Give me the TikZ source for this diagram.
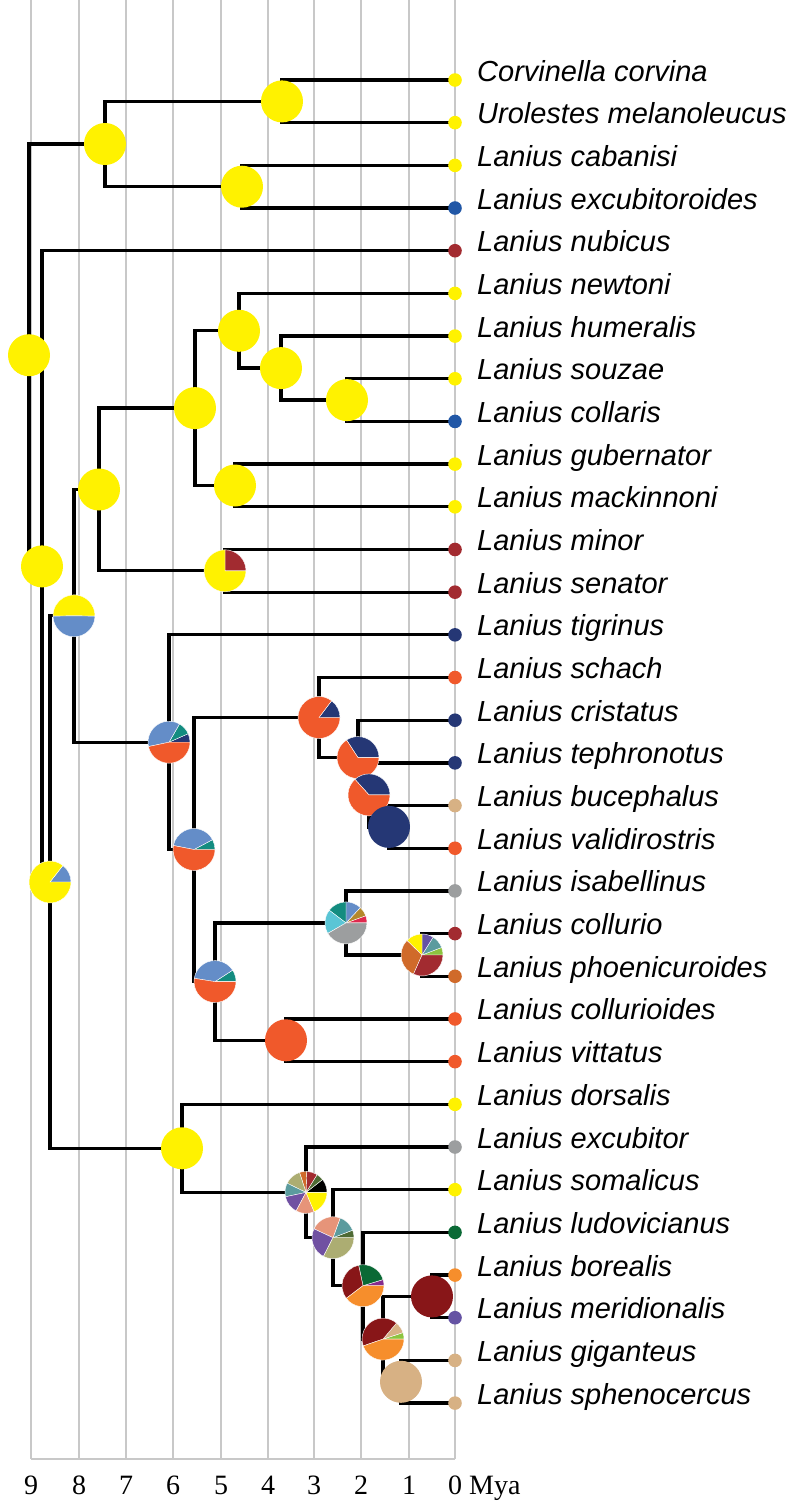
\documentclass[tikz,border=0pt]{standalone}
\usepackage{fontspec}
\setmainfont{Liberation Serif}
\setsansfont{Liberation Sans}
\usepackage{xcolor}
\usepackage{tikz}
\definecolor{stateyellow}{HTML}{FFF200}
\definecolor{stateblue}{HTML}{2157A6}
\definecolor{statebrown}{HTML}{A22B30}
\definecolor{statenavy}{HTML}{253775}
\definecolor{stateorange}{HTML}{F0592B}
\definecolor{statesky}{HTML}{648DC8}
\definecolor{stateteal}{HTML}{138C80}
\definecolor{statetan}{HTML}{D7B184}
\definecolor{stategray}{HTML}{9C9E9F}
\definecolor{statecyan}{HTML}{5AC5D5}
\definecolor{stategold}{HTML}{B4882A}
\definecolor{statecrimson}{HTML}{E0294E}
\definecolor{stateviolet}{HTML}{6553A3}
\definecolor{statecadet}{HTML}{5B9B9E}
\definecolor{statelime}{HTML}{8CC43F}
\definecolor{statechoco}{HTML}{D06A2A}
\definecolor{statedarkred}{HTML}{881618}
\definecolor{stategreen}{HTML}{0A6935}
\definecolor{stateamber}{HTML}{F68E2C}
\definecolor{statesage}{HTML}{ACAD72}
\definecolor{statesalmon}{HTML}{E69479}
\definecolor{stateolive}{HTML}{4E6A34}
\definecolor{statepurple}{HTML}{7050A2}
\definecolor{statemagenta}{HTML}{862C8E}
\definecolor{gridgray}{HTML}{C8C8C8}

\tikzset{
    gridline/.style={gridgray,line width=2.9pt},
    branch/.style={black,line width=3.3pt},
    tiplabel/.style={anchor=base west,inner sep=0pt,font=\sffamily\itshape\fontsize{29}{34}\selectfont},
    axislabel/.style={anchor=base,inner sep=0pt,font=\fontsize{28}{33}\selectfont},
}

% pie of ancestral states: start/end/colour
\newcommand{\statepie}[2]{%
    \foreach \sa/\ea/\col in {#2}
        \fill[\col,draw=white,line width=0.4pt] (#1) -- ++(\sa:21pt) arc[start angle=\sa,end angle=\ea,radius=21pt] -- cycle;
}
% one state only
\newcommand{\solidpie}[2]{\fill[#2] (#1) circle (21pt);}

\pgfdeclarelayer{back}
\pgfsetlayers{back,main}

\begin{document}
\begin{tikzpicture}[x=1pt,y=-1pt]
\useasboundingbox (0,0) rectangle (791,1505);

% Time axis
\begin{pgfonlayer}{back}
\foreach \xg in {31,79,126,173,221,268,314,361,409,455}
{
    \draw[gridline] (\xg,0) -- (\xg,1459);
}
\draw[gridline] (31,1459) -- (455,1459);
\end{pgfonlayer}
\foreach \xg/\lab in {31/9,79/8,126/7,173/6,221/5,268/4,314/3,361/2,409/1,455/0}
{
    \node[axislabel] (age\lab) at (\xg,1494) {\lab};
}
\node[axislabel,anchor=base west] (mya) at (469,1494) {Mya};

% Internal nodes
\coordinate (root) at (29,355.2);
\coordinate (nC) at (105,144);
\coordinate (nA) at (282,101.4);
\coordinate (nB) at (242,186.7);
\coordinate (nD) at (42,566.4);
\coordinate (nE) at (50,882);
\coordinate (nF) at (74,615.8);
\coordinate (nH) at (99,489.5);
\coordinate (nJ) at (195,408.1);
\coordinate (nL) at (239,330.8);
\coordinate (nN) at (281,368.1);
\coordinate (nO) at (347,400.1);
\coordinate (nM) at (235,485.5);
\coordinate (nK) at (225,570.8);
\coordinate (nI) at (169,742.2);
\coordinate (nP) at (194,849.5);
\coordinate (nQ) at (319,717.5);
\coordinate (nS) at (358,757.6);
\coordinate (nT) at (369,794.9);
\coordinate (nU) at (389,826.9);
\coordinate (nR) at (215,981.6);
\coordinate (nV) at (346,922.9);
\coordinate (nX) at (422,955);
\coordinate (nW) at (286,1040.3);
\coordinate (nG) at (182,1148.3);
\coordinate (nY) at (306,1192.4);
\coordinate (nZ) at (333,1237.7);
\coordinate (nAA) at (363,1285.7);
\coordinate (nBB) at (383,1339.1);
\coordinate (nCC) at (432,1296.4);
\coordinate (nDD) at (401,1381.8);

% Pies
\foreach \n in {root,nC,nA,nB,nD,nH,nJ,nL,nN,nO,nM,nG}
{
    \solidpie{\n}{stateyellow}
}
\statepie{nE}{0/52/statesky,52/360/stateyellow}
\statepie{nF}{-1/181/stateyellow,181/359/statesky}
\statepie{nK}{0/90/statebrown,90/360/stateyellow}
\statepie{nI}{0/24/statenavy,24/60/stateteal,60/192/statesky,192/360/stateorange}
\statepie{nP}{0/28/stateteal,28/169/statesky,169/360/stateorange}
\statepie{nR}{0/33/stateteal,33/171/statesky,171/360/stateorange}
\statepie{nQ}{0/53/statenavy,53/360/stateorange}
\statepie{nS}{0/123/statenavy,123/360/stateorange}
\statepie{nT}{0/132/statenavy,132/360/stateorange}
\solidpie{nU}{statenavy}
\statepie{nV}{0/20/statecrimson,20/47/stategold,47/90/statesky,90/143/stateteal,143/210/statecyan,210/360/stategray}
\statepie{nX}{0/21/statelime,21/58/statecadet,58/90/stateviolet,90/136/stateyellow,136/246/statechoco,246/360/statebrown}
\solidpie{nW}{stateorange}
\statepie{nY}{0/38/black,38/58/stateolive,58/88/statebrown,88/108/statechoco,108/154/statesage,154/192/statecadet,192/242/statepurple,242/293/statesalmon,293/360/stateyellow}
\statepie{nZ}{0/21/stateolive,21/70/statecadet,70/155/statesalmon,155/243/statepurple,243/360/statesage}
\statepie{nAA}{0/17/statemagenta,17/102/stategreen,102/217/statedarkred,217/360/stateamber}
\statepie{nBB}{0/18/statelime,18/50/statetan,50/199/statedarkred,199/360/stateamber}
\solidpie{nCC}{statedarkred}
\solidpie{nDD}{statetan}

% Tips
\foreach \i/\sp/\col in {1/Corvinella corvina/stateyellow,2/Urolestes melanoleucus/stateyellow,
    3/Lanius cabanisi/stateyellow,4/Lanius excubitoroides/stateblue,5/Lanius nubicus/statebrown,
    6/Lanius newtoni/stateyellow,7/Lanius humeralis/stateyellow,8/Lanius souzae/stateyellow,
    9/Lanius collaris/stateblue,10/Lanius gubernator/stateyellow,11/Lanius mackinnoni/stateyellow,
    12/Lanius minor/statebrown,13/Lanius senator/statebrown,14/Lanius tigrinus/statenavy,
    15/Lanius schach/stateorange,16/Lanius cristatus/statenavy,17/Lanius tephronotus/statenavy,
    18/Lanius bucephalus/statetan,19/Lanius validirostris/stateorange,20/Lanius isabellinus/stategray,
    21/Lanius collurio/statebrown,22/Lanius phoenicuroides/statechoco,23/Lanius collurioides/stateorange,
    24/Lanius vittatus/stateorange,25/Lanius dorsalis/stateyellow,26/Lanius excubitor/stategray,
    27/Lanius somalicus/stateyellow,28/Lanius ludovicianus/stategreen,29/Lanius borealis/stateamber,
    30/Lanius meridionalis/stateviolet,31/Lanius giganteus/statetan,32/Lanius sphenocercus/statetan}
{
    \pgfmathsetmacro{\ypos}{80+(\i-1)*42.68}
    \coordinate (tip\i) at (455,\ypos);
    \fill[\col] (tip\i) circle (6.8pt);
    \node[tiplabel] (name\i) at (477,{\ypos+1}) {\sp};
}

% Branches
\begin{pgfonlayer}{back}
\foreach \p/\c in {root/nC,root/nD,nC/nA,nC/nB,nA/tip1,nA/tip2,nB/tip3,nB/tip4,
    nD/tip5,nD/nE,nE/nF,nE/nG,nF/nH,nF/nI,nH/nJ,nH/nK,nJ/nL,nJ/nM,
    nL/tip6,nL/nN,nN/tip7,nN/nO,nO/tip8,nO/tip9,nM/tip10,nM/tip11,nK/tip12,nK/tip13,
    nI/tip14,nI/nP,nP/nQ,nP/nR,nQ/tip15,nQ/nS,nS/tip16,nS/nT,nT/tip17,nT/nU,nU/tip18,nU/tip19,
    nR/nV,nR/nW,nV/tip20,nV/nX,nX/tip21,nX/tip22,nW/tip23,nW/tip24,
    nG/tip25,nG/nY,nY/tip26,nY/nZ,nZ/tip27,nZ/nAA,nAA/tip28,nAA/nBB,
    nBB/nCC,nBB/nDD,nCC/tip29,nCC/tip30,nDD/tip31,nDD/tip32}
{
    \draw[branch] (\p) |- (\c);
}
\end{pgfonlayer}
\end{tikzpicture}
\end{document}
